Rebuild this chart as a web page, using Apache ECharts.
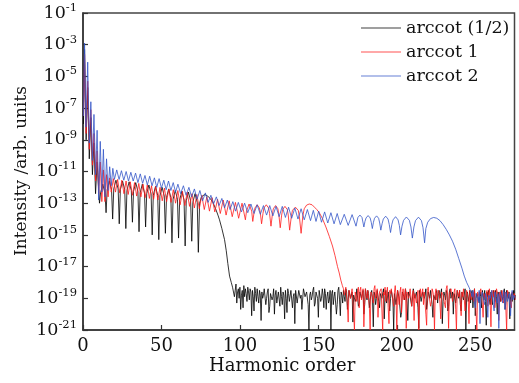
<!DOCTYPE html>
<html><head><meta charset="utf-8">
<script src="https://cdn.jsdelivr.net/npm/echarts@6/dist/echarts.min.js"></script>
<style>html,body{margin:0;padding:0;background:#fff}#c{width:519px;height:383px}</style>
</head><body><div id="c"></div>
<script>
// ---- data (y values are log10 of intensity) ----
const xTicks = [0, 50, 100, 150, 200, 250];
const yTickExps = [-21, -19, -17, -15, -13, -11, -9, -7, -5, -3, -1];
const seriesNames = ['arccot (1/2)', 'arccot 1', 'arccot 2'];
const noiseStep = 0.5;

const blackMain = [[0.3,-8.0],[1,-3.3],[2,-9.0],[3,-5.7],[4,-10.2],[5,-7.6],[6,-11.2],[7,-9.2],[8,-12.4],[9,-10.4],[10.5,-13.0],
[11.2,-12.35],[12.6,-11.8],[14.0,-12.35],[14.7,-13.6],
[15.4,-12.15],[16.8,-11.6],[18.2,-12.15],[18.9,-14.0],
[19.6,-12.1],[21,-11.55],[22.4,-12.1],[23.1,-14.3],
[23.8,-12.15],[25.2,-11.6],[26.6,-12.15],[27.3,-14.6],
[28,-12.2],[29.4,-11.65],[30.8,-12.2],[31.5,-14.2],
[32.2,-12.25],[33.6,-11.7],[35,-12.25],[35.7,-14.8],
[36.4,-12.35],[37.8,-11.8],[39.2,-12.35],[39.9,-14.5],
[40.6,-12.4],[42,-11.85],[43.4,-12.4],[44.1,-15.0],
[44.8,-12.5],[46.2,-11.95],[47.6,-12.5],[48.3,-15.3],
[49,-12.55],[50.4,-12.0],[51.8,-12.55],[52.5,-14.9],
[53.2,-12.65],[54.6,-12.1],[56,-12.65],[56.7,-15.5],
[57.4,-12.75],[58.8,-12.2],[60.2,-12.75],[60.9,-15.2],
[61.6,-12.8],[63,-12.25],[64.4,-12.8],[65.1,-15.7],
[65.8,-12.85],[67.2,-12.3],[68.6,-12.85],[69.3,-15.4],
[70,-12.95],[71.4,-12.4],[72.8,-12.95],[73.5,-16.1],
[74.3,-13.0],[75.5,-12.6],[77.5,-12.45],[79.5,-12.55],[81,-12.7],[82.8,-12.95],[84.5,-13.35],[86,-13.75],[87,-14.05],[88.5,-14.6],[90.2,-15.3],[91.3,-16.0],[92.3,-16.8],[93.4,-17.6],[94.5,-18.0],[95.3,-18.3]];
const blackNoiseStart = 96;
const blackNoise = [
-18.2,-18.9,-18.5,-18.1,-19.3,-18.6,-18.4,-19.0,-18.3,-19.7,-18.8,-18.5,-19.6,-18.2,-18.9,-18.4,-18.7,-19.2,-18.3,-18.6,
-19.1,-18.4,-18.6,-20.1,-18.5,-18.9,-19.8,-18.3,-18.7,-19.2,-18.4,-18.9,-19.3,-18.5,-18.8,-20.4,-18.6,-19.0,-18.8,-18.4,
-18.5,-19.4,-19.0,-18.6,-18.4,-19.9,-19.5,-18.7,-18.7,-19.1,-18.9,-18.4,-20.0,-18.8,-18.5,-19.3,-19.2,-18.6,-18.6,-19.5,
-18.3,-18.9,-19.4,-18.6,-18.8,-20.3,-18.5,-19.0,-19.9,-18.4,-18.7,-19.2,-19.1,-18.5,-18.4,-19.6,-18.9,-18.7,-20.6,-18.5,
-18.6,-19.3,-19.2,-18.5,-18.5,-19.0,-18.8,-19.7,-19.6,-18.4,-18.4,-18.9,-19.0,-18.6,-18.7,-19.4,-21.0,-18.8,-18.6,-19.1,
-18.9,-18.5,-18.3,-19.5,-19.3,-18.6,-18.7,-19.0,-20.2,-18.5,-18.5,-19.2,-19.0,-18.4,-18.8,-19.6,-18.4,-18.7,-19.7,-18.9,
-18.6,-19.3,-19.1,-18.5,-21.0,-18.7,-18.5,-19.4,-18.9,-18.6,-18.7,-20.0,-19.4,-18.5,-18.3,-19.1,-20.1,-18.6,-18.8,-19.3,
-18.5,-18.9,-19.2,-18.4,-18.6,-19.7,-19.8,-18.5,-18.4,-19.0,-18.9,-18.6,-20.5,-18.8,-18.7,-19.2,-19.0,-18.4,-18.5,-19.5,
-19.3,-18.6,-18.6,-19.0,-18.9,-18.5,-20.0,-19.4,-18.4,-18.8,-19.1,-18.5,-18.7,-19.6,-19.5,-18.7,-18.5,-19.1,-20.8,-18.6,
-18.8,-19.4,-19.0,-18.5,-18.4,-19.2,-19.6,-18.7,-18.7,-19.0,-18.9,-18.4,-20.3,-18.9,-18.5,-19.3,-19.2,-18.6,-18.6,-19.8,
-19.0,-18.5,-18.4,-19.1,-21.0,-18.7,-18.8,-19.4,-19.3,-18.5,-18.6,-19.0,-18.9,-20.2,-19.9,-18.6,-18.5,-18.9,-19.1,-18.4,
-18.7,-19.3,-20.4,-18.6,-18.6,-18.9,-18.9,-19.5,-19.4,-18.4,-18.5,-19.0,-19.0,-18.6,-18.7,-19.6,-20.9,-18.5,-18.6,-19.2,
-19.2,-18.6,-18.5,-19.0,-18.8,-18.4,-19.7,-19.3,-18.6,-18.7,-19.0,-18.5,-18.4,-19.4,-20.2,-18.8,-18.9,-19.1,-18.7,-18.5,
-19.3,-18.7,-18.5,-19.0,-18.9,-18.4,-20.6,-19.2,-18.6,-18.8,-19.1,-18.5,-18.7,-19.8,-19.5,-18.6,-18.4,-19.0,-18.9,-18.6,
-20.0,-18.7,-18.6,-19.3,-19.2,-18.5,-18.8,-19.0,-18.5,-19.4,-19.8,-18.6,-18.7,-19.1,-19.0,-18.4,-21.0,-18.8,-18.6,-19.2,
-18.9,-18.5,-19.3,-18.7,-18.5,-19.6,-18.8,-18.4,-20.1,-19.0,-18.7,-18.6,-19.0,-19.3,-18.6,-18.9,-19.6,-18.5,-18.8,-19.1,
-18.5,-19.2,-20.7,-18.6,-18.9,-18.5,-19.1,-19.4,-18.6,-18.7,-19.4,-18.5,-18.8,-19.2,-18.5,-18.9,-20.0,-18.6,-18.7,-19.0,
-19.2,-18.5,-18.6,-19.1,-18.9,-18.4,-19.7,-19.3,-18.5,-18.8,-19.0,-18.6,-20.3,-18.9,-18.7,-19.2,-18.9,-18.5,-19.1,-18.8];

const redMain = [[0.3,-7.5],[1,-3.6],[2,-8.6],[3,-5.3],[4,-9.6],[5,-7.1],[6,-10.6],[7,-8.6],[8,-11.6],[9,-9.7],[10,-12.4],[11,-10.4],[12,-12.9],[13,-10.9],[14,-12.9],[15,-11.2],[16,-12.6],[17,-11.4],
[18,-12.3],[19.35,-11.45],[20.7,-12.3],[22.05,-11.5],[23.4,-12.35],[24.75,-11.55],[26.1,-12.4],[27.45,-11.6],[28.8,-12.45],[30.15,-11.65],[31.5,-12.5],[32.85,-11.7],[34.2,-12.55],[35.55,-11.75],[36.9,-12.6],[38.25,-11.8],[39.6,-12.65],[40.95,-11.85],[42.3,-12.7],[43.65,-11.9],[45,-12.75],[46.35,-11.95],[47.7,-12.8],[49.1,-12.0],[50.5,-12.85],[51.9,-12.05],[53.3,-12.9],[54.7,-12.1],[56.1,-12.95],[57.55,-12.15],[59,-13.0],[60.45,-12.2],[61.9,-13.1],[63.4,-12.25],[64.9,-13.15],[66.4,-12.3],[67.9,-13.2],[69.45,-12.4],[71,-13.3],[72.55,-12.45],[74.1,-13.35],[75.7,-12.5],[77.3,-13.4],[78.95,-12.6],[80.6,-13.5],[82.3,-12.65],[84,-13.55],[85.75,-12.75],[87.5,-13.65],[89.35,-12.8],[91.2,-13.75],[93.15,-12.85],[95.1,-13.85],[97.15,-12.95],[99.2,-13.95],[101.35,-13.0],
[103.5,-14.05],[104.2,-13.5],[105.85,-13.05],[107.5,-13.5],[108.2,-14.15],[109,-13.6],[109.6,-13.3],[111,-13.1],[112.4,-13.3],[113,-13.6],[113.8,-14.3],[114.7,-13.65],[115.3,-13.3],[116.8,-13.1],[118.3,-13.3],[118.9,-13.65],[119.8,-14.45],[120.7,-13.7],[121.3,-13.35],[122.75,-13.15],[124.2,-13.35],[124.8,-13.7],[125.7,-14.55],[126.6,-13.75],[127.2,-13.4],[128.7,-13.2],[130.2,-13.4],[130.8,-13.75],[131.7,-14.7],[132.8,-13.8],[133.5,-13.45],[135.35,-13.25],[137.2,-13.45],[137.9,-13.85],[139,-14.9],
[140.1,-13.8],[141,-13.35],[142.5,-13.12],[144.2,-13.05],[146,-13.1],[147.5,-13.25],[149,-13.4],[150.6,-13.6],[152.5,-13.95],[154.8,-14.5],[157,-15.1],[159,-15.7],[160.6,-16.3],[162.2,-17.0],[163.3,-17.4],[164.3,-17.85],[165.3,-18.2]];
const redNoiseStart = 166;
const redNoise = [
-18.4,-18.8,-18.9,-18.3,-18.2,-19.4,-20.5,-18.5,-18.6,-19.0,-19.1,-18.4,-18.3,-20.0,-21.0,-18.6,-18.7,-19.2,-18.5,-18.3,
-19.6,-18.5,-18.3,-19.1,-18.8,-18.4,-20.8,-19.3,-18.4,-18.7,-19.0,-18.5,-18.6,-19.5,-21.0,-18.6,-18.5,-18.9,-19.3,-18.4,
-18.2,-19.0,-18.9,-18.4,-20.2,-19.1,-18.6,-18.5,-18.4,-19.8,-21.0,-18.6,-18.8,-18.3,-19.2,-18.7,-18.3,-19.6,-20.6,-18.5,
-18.7,-18.4,-18.5,-19.2,-19.5,-18.6,-18.2,-18.9,-21.0,-18.5,-18.9,-19.4,-18.6,-18.3,-19.9,-18.8,-18.4,-19.1,-18.8,-18.4,
-20.9,-18.6,-18.5,-19.0,-19.1,-18.4,-18.3,-19.5,-18.7,-18.5,-20.4,-18.7,-18.6,-19.3,-19.0,-18.5,-21.0,-18.8,-18.4,-18.9,
-18.8,-18.4,-19.4,-18.6,-18.5,-20.0,-20.7,-18.5,-18.3,-18.8,-18.9,-19.5,-19.2,-18.4,-18.6,-18.9,-21.0,-18.7,-18.4,-19.1,
-19.0,-18.5,-18.7,-19.3,-20.3,-18.6,-18.5,-18.8,-18.9,-19.4,-19.6,-18.4,-18.2,-19.0,-20.9,-18.7,-18.6,-18.4,-18.8,-19.2,
-19.3,-18.6,-18.4,-19.7,-21.0,-18.5,-18.7,-18.9,-18.5,-19.3,-20.1,-18.6,-18.9,-18.4,-18.3,-19.8,-19.7,-18.5,-18.6,-19.0,
-20.6,-18.5,-18.4,-19.1,-18.8,-18.6,-19.2,-18.4,-18.5,-19.9,-21.0,-18.6,-18.7,-18.9,-19.0,-18.4,-18.3,-19.4,-20.2,-18.7,
-18.6,-19.0,-18.9,-18.5,-19.5,-18.7,-18.4,-19.3,-20.8,-18.5,-18.7,-18.9,-18.5,-19.6,-19.1,-18.4,-18.3,-18.8,-20.4,-18.6,
-18.8,-19.2,-18.5,-18.4,-19.3,-18.9,-18.6,-19.7,-21.0,-18.5,-18.4,-18.8,-18.9,-19.4,-19.6,-18.6,-18.5,-18.9,-18.7,-19.1];

const blueMain = [[0.3,-7.5],[1,-2.9],[1.9,-8.2],[3,-4.1],[4,-9.2],[5,-6.6],[6,-10.3],[7,-7.4],[8,-11.2],[9,-8.4],[10,-12.8],[11,-9.1],[12,-12.3],[13,-9.6],[14,-12.6],[15,-10.2],[16,-12.2],[17,-10.7],[18,-11.9],[19,-10.8],
[20,-11.5],[21.5,-10.9],[23,-11.5],[24.5,-10.95],[26,-11.55],[27.5,-11.0],[29,-11.6],[30.5,-11.05],[32,-11.6],[33.5,-11.1],[35,-11.7],[36.5,-11.15],[38,-11.75],[39.5,-11.25],[41,-11.85],[42.5,-11.3],[44,-11.9],[45.5,-11.4],[47,-12.0],[48.5,-11.45],[50,-12.05],[51.5,-11.55],[53,-12.15],[54.5,-11.6],[56,-12.2],[57.5,-11.7],[59,-12.3],[60.5,-11.8],[62.2,-12.4],[64,-11.9],[65.7,-12.5],[67.5,-12.0],[69.2,-12.6],[71,-12.1],[72.7,-12.75],[74.5,-12.2],[76.2,-12.85],[78,-12.35],[79.7,-12.95],[81.5,-12.5],[83.2,-13.05],[85,-12.6],[86.7,-13.15],[88.5,-12.7],[90.2,-13.3],[92,-12.8],[93.7,-13.4],[95.5,-12.9],[97.2,-13.5],[99,-12.95],
[101,-13.55],[103,-13.0],[105,-13.6],[107,-13.05],[109,-13.65],[111,-13.1],[113,-13.7],[115,-13.15],[117,-13.75],[119,-13.15],[121,-13.8],[123,-13.2],[125,-13.85],[127,-13.2],[129,-13.9],[131,-13.25],[133,-13.95],[135,-13.3],[137,-14.0],[139,-13.35],[141,-14.05],[143,-13.4],[145,-14.1],[146.8,-13.45],[148.5,-14.15],[150.2,-13.5],[152,-14.2],[154,-13.55],[156,-14.25],[158,-13.6],[160,-14.3],[162,-13.65],[164,-14.35],[166.5,-13.7],[169,-14.4],[171.5,-13.72],[174,-14.45],
[175.2,-13.9],[176.5,-13.75],[177.8,-13.9],[179,-14.5],[179.7,-14.15],[180.4,-13.93],[181.7,-13.78],[183,-13.93],[183.7,-14.2],[184.4,-14.6],[185.1,-14.2],[185.8,-13.95],[187.1,-13.8],[188.4,-13.95],[189.1,-14.25],[189.8,-14.7],[190.6,-14.3],[191.4,-14.0],[192.9,-13.82],[194.4,-14.0],[195.2,-14.35],[196,-14.85],[196.8,-14.35],[197.6,-14.05],[199.2,-13.85],[200.8,-14.05],[201.6,-14.4],[202.4,-15.0],[203.3,-14.45],[204.3,-14.08],[206.1,-13.87],[208,-14.08],[209,-14.5],[209.9,-15.2],[210.9,-14.5],[211.9,-14.1],[213.8,-13.88],[215.7,-14.1],[216.7,-14.55],[217.7,-15.5],
[218.5,-14.6],[219.7,-14.2],[221.5,-13.97],[223.5,-13.9],[225.5,-13.95],[227.5,-14.1],[229.5,-14.35],[231.5,-14.65],[233.5,-15.0],[235.5,-15.4],[237.5,-15.9],[239.5,-16.5],[241.5,-17.1],[243,-17.6],[244.5,-18.0],[246,-18.3],[247.2,-18.6]];
const blueNoiseStart = 248;
const blueNoise = [
-18.9,-18.5,-18.4,-19.3,-19.6,-18.7,-18.6,-19.0,-19.2,-18.5,-20.6,-19.1,-18.8,-18.6,-18.5,-19.2,-19.4,-18.7,-18.9,-19.3,
-20.2,-18.8,-18.7,-19.0,-19.1,-18.5,-18.4,-19.4,-19.8,-18.6,-18.9,-19.1,-19.3,-18.7,-20.9,-19.0,-18.6,-18.5,-19.0,-19.3,
-18.5,-18.8,-19.7,-18.6,-18.8,-19.2,-19.2,-18.7,-18.6,-20.1,-18.9,-18.5,-19.1,-18.8,-18.7,-19.0];

function build(main, start, noise) {
  const out = main.map(p => [p[0], p[1]]);
  noise.forEach((v, i) => out.push([start + i * noiseStep, v]));
  return out;
}

const FONT = 'DejaVu Serif';
const colors = ['#000000', '#ff1a1a', '#3355c8'];
const chart = echarts.init(document.getElementById('c'), null, {renderer: 'canvas'});
const mk = (name, data, color) => ({
  name, type: 'line', data, symbol: 'none', showSymbol: false,
  lineStyle: {color, width: 0.8}, itemStyle: {color}, animation: false
});
chart.setOption({
  animation: false,
  backgroundColor: '#fff',
  grid: {left: 83, right: 4.5, top: 13, bottom: 53, show: true, borderColor: '#444', borderWidth: 1.5, backgroundColor: 'transparent'},
  legend: {
    data: seriesNames.map(n => ({name: n, icon: 'rect'})), orient: 'vertical', left: 361, top: 19,
    itemWidth: 40, itemHeight: 1.4, itemGap: 6, padding: 0,
    textStyle: {fontFamily: FONT, fontSize: 17.5, color: '#111'}, itemStyle: {opacity: 0.5}
  },
  xAxis: {
    type: 'value', min: 0, max: 275, interval: 50,
    axisLine: {lineStyle: {color: '#333', width: 1.5}},
    axisTick: {inside: true, length: 5, lineStyle: {color: '#333', width: 1.2}},
    axisLabel: {showMaxLabel: false, fontFamily: FONT, fontSize: 18, color: '#111', margin: 7,
      formatter: v => xTicks.includes(v) ? String(v) : ''},
    splitLine: {show: false}
  },
  yAxis: {
    type: 'value', min: yTickExps[0], max: yTickExps[yTickExps.length - 1], interval: 2,
    axisLine: {lineStyle: {color: '#333', width: 1.5}},
    axisTick: {inside: true, length: 5, lineStyle: {color: '#333', width: 1.2}},
    axisLabel: {
      margin: 6,
      formatter: v => '{b|10}{s|' + (v < 0 ? '-' : '') + Math.abs(v) + '}',
      rich: {
        b: {fontFamily: FONT, fontSize: 17.5, lineHeight: 22, color: '#111'},
        s: {fontFamily: FONT, fontSize: 11.5, lineHeight: 12, verticalAlign: 'top', color: '#111'}
      }
    },
    splitLine: {show: false}
  },
  graphic: [
    {type: 'text', left: 209, top: 357, style: {text: 'Harmonic order', font: '18px "DejaVu Serif"', fill: '#111'}},
    {type: 'text', x: 22, y: 171, rotation: Math.PI / 2,
      style: {text: 'Intensity /arb. units', font: '17px "DejaVu Serif"', fill: '#111', align: 'center', verticalAlign: 'middle'}}
  ],
  series: [
    mk(seriesNames[0], build(blackMain, blackNoiseStart, blackNoise), colors[0]),
    mk(seriesNames[1], build(redMain, redNoiseStart, redNoise), colors[1]),
    mk(seriesNames[2], build(blueMain, blueNoiseStart, blueNoise), colors[2])
  ]
});
</script></body></html>
